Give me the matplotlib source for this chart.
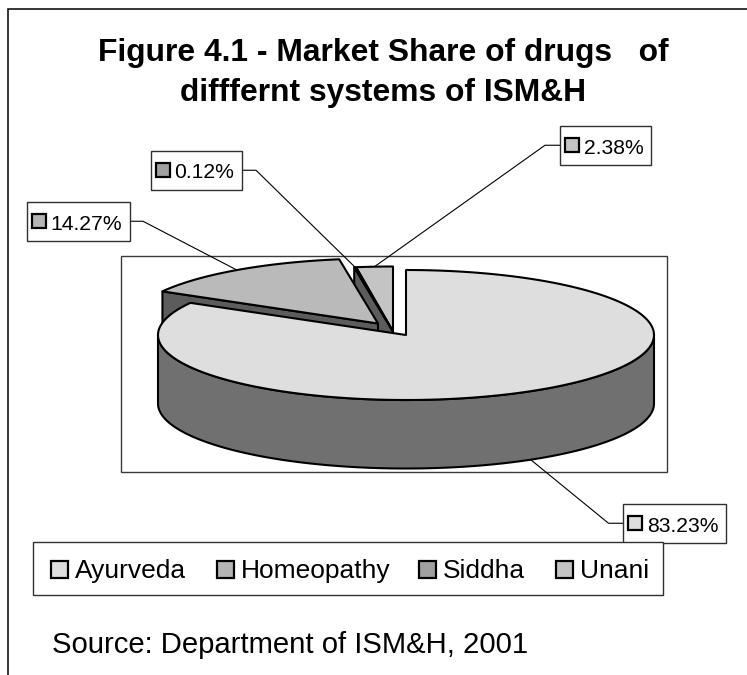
import numpy as np
import matplotlib
matplotlib.use('Agg')
import matplotlib.pyplot as plt
from matplotlib.patches import Polygon, Rectangle

plt.rcParams['font.family'] = ['Liberation Sans', 'DejaVu Sans']

systems = ['Ayurveda', 'Homeopathy', 'Siddha', 'Unani']
shares = [83.23, 14.27, 0.12, 2.38]
top_colors = ['#dedede', '#bababa', '#5c5c5c', '#c4c4c4']
key_colors = ['#dedede', '#b4b4b4', '#a0a0a0', '#c4c4c4']

title_lines = ['Figure 4.1 - Market Share of drugs   of', 'difffernt systems of ISM&H']
source_text = 'Source: Department of ISM&H, 2001'

# pie geometry, in pixels
cx, cy = 406.0, 335.0
rx, ry = 248.0, 65.0
depth = 68.5
offsets = [(0, 0), (-28, -11.5), (-13, -3.5), (-13, -3.5)]
wall_color = '#707070'
cut_color = '#5c5c5c'

# label box x, y, elbow x, leader side
boxes = {'Ayurveda': (623, 504, 608.5, 'left'),
         'Homeopathy': (26.5, 202, 143, 'right'),
         'Siddha': (150.5, 151, 256, 'right'),
         'Unani': (560, 126, 545, 'left')}
box_w = {'Ayurveda': 102.5, 'Homeopathy': 103, 'Siddha': 91, 'Unani': 91}
box_h = 38.5

key_x = [51, 217, 419, 556]


def rim(a, off):
    # a is clockwise from 12 o'clock, in degrees
    a = np.radians(np.atleast_1d(a))
    x = cx + off[0] + rx * np.sin(a)
    y = cy + off[1] - ry * np.cos(a)
    return np.column_stack([x, y])


def arc(a0, a1, off):
    return rim(np.linspace(a0, a1, max(int(abs(a1 - a0) * 2), 2)), off)


def slice_top(ax, a0, a1, off, color, z):
    apex = [[cx + off[0], cy + off[1]]]
    pts = np.vstack([apex, arc(a0, a1, off)])
    ax.add_patch(Polygon(pts, closed=True, fc=color, ec='black', lw=1.5,
                         joinstyle='round', zorder=z))


def cut_face(ax, a, off, z):
    apex = np.array([cx + off[0], cy + off[1]])
    out = rim(a, off)[0]
    drop = np.array([0, depth])
    pts = np.array([out, apex, apex + drop, out + drop])
    ax.add_patch(Polygon(pts, closed=True, fc=cut_color, ec='black', lw=1.5,
                         joinstyle='round', zorder=z))


def front_wall(ax, a0, a1, off, z):
    up = arc(a0, a1, off)
    down = up[::-1] + [0, depth]
    ax.add_patch(Polygon(np.vstack([up, down]), closed=True, fc=wall_color,
                         ec='black', lw=1.5, joinstyle='round', zorder=z))


fig = plt.figure(figsize=(7.47, 6.75), dpi=100)
ax = fig.add_axes([0, 0, 1, 1])
ax.set_xlim(0, 747)
ax.set_ylim(675, 0)
ax.axis('off')

# chart frame: top and left only
ax.plot([747, 7.5, 7.5], [9, 9, 675], color='black', lw=1.1, zorder=1,
        solid_joinstyle='miter')

for i, line in enumerate(title_lines):
    ax.text(383, 61 + 40 * i, line, ha='center', va='baseline', fontsize=22.9,
            fontweight='bold', color='black')

ax.add_patch(Rectangle((121, 256), 546, 216, fc='white', ec='#3a3a3a', lw=1.0, zorder=2))

# slice angles
edges = np.concatenate([[0], np.cumsum(shares)]) / sum(shares) * 360
mids = (edges[:-1] + edges[1:]) / 2

# back slices first, front slice last so it hides their cut faces
slice_top(ax, edges[3], edges[4], offsets[3], top_colors[3], 5)
cut_face(ax, edges[2], offsets[2], 6)
slice_top(ax, edges[2], edges[3], offsets[2], top_colors[2], 6)
cut_face(ax, edges[1], offsets[1], 7)
slice_top(ax, edges[1], edges[2], offsets[1], top_colors[1], 8)
front_wall(ax, 90, 270, offsets[0], 9)
slice_top(ax, edges[0], edges[1], offsets[0], top_colors[0], 10)

# data labels with leader lines
for i, name in enumerate(systems):
    x0, y0, elbow, side = boxes[name]
    w = box_w[name]
    tip = rim(mids[i], offsets[i])[0]
    if 90 < mids[i] < 270:
        tip = tip + [0, depth]
    ym = y0 + box_h / 2
    xb = x0 if side == 'left' else x0 + w
    ax.plot([xb, elbow, tip[0]], [ym, ym, tip[1]], color='black', lw=0.8, zorder=3)
    ax.add_patch(Rectangle((x0, y0), w, box_h, fc='white', ec='#303030', lw=1.0, zorder=12))
    ax.add_patch(Rectangle((x0 + 5, y0 + 12), 14, 14, fc=key_colors[i], ec='black', lw=1.6, zorder=13))
    ax.text(x0 + 24, y0 + 27.5, '%.2f%%' % shares[i], ha='left', va='baseline',
            fontsize=15.2, color='black', zorder=13)

# legend strip, drawn over the nearby label box
ax.add_patch(Rectangle((33, 542), 630, 53, fc='white', ec='#303030', lw=1.0, zorder=14))
for i, name in enumerate(systems):
    ax.add_patch(Rectangle((key_x[i], 561), 17, 17, fc=key_colors[i], ec='black', lw=1.6, zorder=15))
    ax.text(key_x[i] + 24, 578, name, ha='left', va='baseline', fontsize=19,
            color='black', zorder=15)

ax.text(52, 653, source_text, ha='left', va='baseline', fontsize=21.1, color='black')

fig.savefig('out.png', dpi=100)
